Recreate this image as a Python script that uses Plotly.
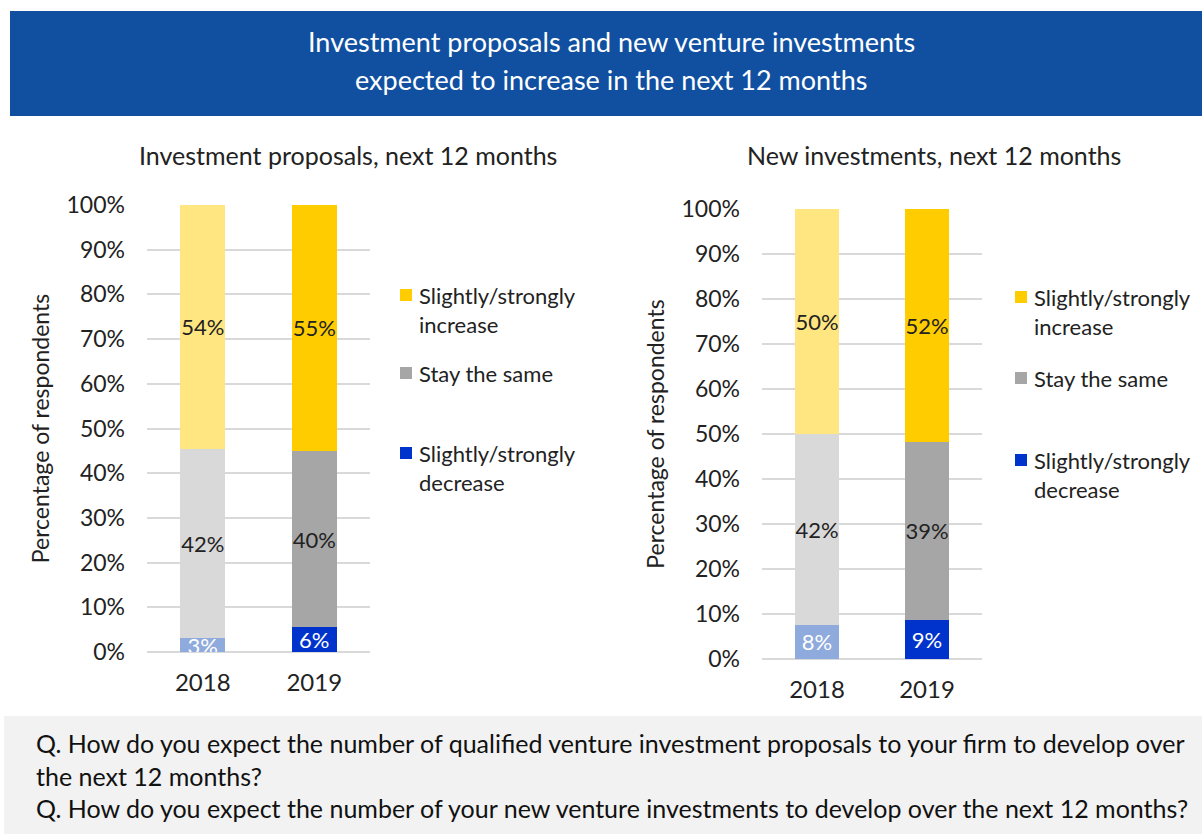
import plotly.graph_objects as go

W, H = 1202, 834
FONT = "Lato"

years = ["2018", "2019"]
segments = ["Slightly/strongly decrease", "Stay the same", "Slightly/strongly increase"]

# investment proposals (bar heights, % of respondents) and printed labels
proposals_decrease = [3.1, 5.5]
proposals_same = [42.4, 39.5]
proposals_increase = [54.5, 55.0]
proposals_labels = [["3%", "6%"], ["42%", "40%"], ["54%", "55%"]]

# new investments
invest_decrease = [7.6, 8.7]
invest_same = [42.5, 39.6]
invest_increase = [49.9, 51.7]
invest_labels = [["8%", "9%"], ["42%", "39%"], ["50%", "52%"]]

# light shade for 2018, full shade for 2019
colors = [
    ["#8FAADC", "#0033CC"],
    ["#D9D9D9", "#A6A6A6"],
    ["#FFE680", "#FFCC00"],
]
label_colors = [["white", "white"], ["#222222", "#222222"], ["#222222", "#222222"]]

legend_text = ["Slightly/strongly<br>decrease", "Stay the same", "Slightly/strongly<br>increase"]


def px_x(v):
    return v / W


def px_y(v):
    return 1 - v / H


fig = go.Figure()

panels = [
    ("x", "y", [proposals_decrease, proposals_same, proposals_increase], proposals_labels),
    ("x2", "y2", [invest_decrease, invest_same, invest_increase], invest_labels),
]
for xa, ya, series, labels in panels:
    for i, vals in enumerate(series):
        fig.add_trace(
            go.Bar(
                x=years,
                y=vals,
                name=segments[i],
                xaxis=xa,
                yaxis=ya,
                width=0.4,
                marker=dict(color=colors[i], line=dict(width=0)),
                text=labels[i],
                textposition="inside",
                insidetextanchor="middle",
                constraintext="none",
                textangle=0,
                textfont=dict(family=FONT, size=22, color=label_colors[i]),
                showlegend=False,
                hoverinfo="skip",
            )
        )

yaxis_common = dict(
    range=[0, 100],
    dtick=10,
    ticksuffix="%",
    showgrid=True,
    gridcolor="#D9D9D9",
    gridwidth=2,
    zeroline=True,
    zerolinecolor="#D9D9D9",
    zerolinewidth=2,
    showline=False,
    automargin=False,
    ticklabelstandoff=21,
    tickfont=dict(family=FONT, size=23, color="#222222"),
    title=dict(text="Percentage of respondents", font=dict(family=FONT, size=23, color="#222222"), standoff=10),
    fixedrange=True,
)
xaxis_common = dict(
    showgrid=False,
    showline=False,
    ticks="",
    automargin=False,
    ticklabelstandoff=14,
    tickfont=dict(family=FONT, size=24, color="#222222"),
    fixedrange=True,
)

fig.update_layout(
    width=W,
    height=H,
    margin=dict(l=0, r=0, t=0, b=0, pad=0),
    paper_bgcolor="white",
    plot_bgcolor="white",
    barmode="stack",
    font=dict(family=FONT, color="#222222"),
    xaxis=dict(domain=[px_x(147), px_x(370)], anchor="y", **xaxis_common),
    yaxis=dict(domain=[px_y(652), px_y(205)], anchor="x", **yaxis_common),
    xaxis2=dict(domain=[px_x(762), px_x(982)], anchor="y2", **xaxis_common),
    yaxis2=dict(domain=[px_y(659), px_y(209)], anchor="x2", **yaxis_common),
)

shapes = [
    dict(type="rect", xref="paper", yref="paper", x0=px_x(10), x1=1, y0=px_y(116), y1=px_y(11),
         fillcolor="#1150A1", line=dict(width=0), layer="below"),
    dict(type="rect", xref="paper", yref="paper", x0=px_x(4), x1=1, y0=0, y1=px_y(716),
         fillcolor="#F2F2F2", line=dict(width=0), layer="below"),
]
annotations = [
    dict(text="Investment proposals and new venture investments", x=px_x(611), y=px_y(41),
         xref="paper", yref="paper", xanchor="center", yanchor="middle", showarrow=False,
         font=dict(family=FONT, size=27, color="white")),
    dict(text="expected to increase in the next 12 months", x=px_x(611), y=px_y(80),
         xref="paper", yref="paper", xanchor="center", yanchor="middle", showarrow=False,
         font=dict(family=FONT, size=27, color="white")),
    dict(text="Investment proposals, next 12 months", x=px_x(348), y=px_y(155), xref="paper", yref="paper",
         xanchor="center", yanchor="middle", showarrow=False, font=dict(family=FONT, size=25, color="#222222")),
    dict(text="New investments, next 12 months", x=px_x(934), y=px_y(155), xref="paper", yref="paper",
         xanchor="center", yanchor="middle", showarrow=False, font=dict(family=FONT, size=25, color="#222222")),
    dict(text="Q. How do you expect the number of qualified venture investment proposals to your firm to develop over<br>"
              "the next 12 months?<br>"
              "Q. How do you expect the number of your new venture investments to develop over the next 12 months?",
         x=px_x(34), y=px_y(775), xref="paper", yref="paper", xanchor="left", yanchor="middle",
         showarrow=False, align="left", font=dict(family=FONT, size=25, color="#111111")),
]

# legends (one per panel), top item = increase
legend_pos = [
    (400, [295, 373, 453]),
    (1015, [297, 378, 460]),
]
for lx, ys in legend_pos:
    for k, seg in enumerate([2, 1, 0]):
        yy = ys[k]
        shapes.append(dict(type="rect", xref="paper", yref="paper",
                           x0=px_x(lx), x1=px_x(lx + 12), y0=px_y(yy + 6), y1=px_y(yy - 6),
                           fillcolor=colors[seg][1], line=dict(width=0)))
        annotations.append(dict(text=legend_text[seg], x=px_x(lx + 17), y=px_y(yy - 15), xref="paper", yref="paper",
                                xanchor="left", yanchor="top", showarrow=False, align="left",
                                font=dict(family=FONT, size=22, color="#222222")))

fig.update_layout(shapes=shapes, annotations=annotations)

fig.write_html("out.html", config={"displayModeBar": False},
               post_script="document.body.style.margin='0';")
